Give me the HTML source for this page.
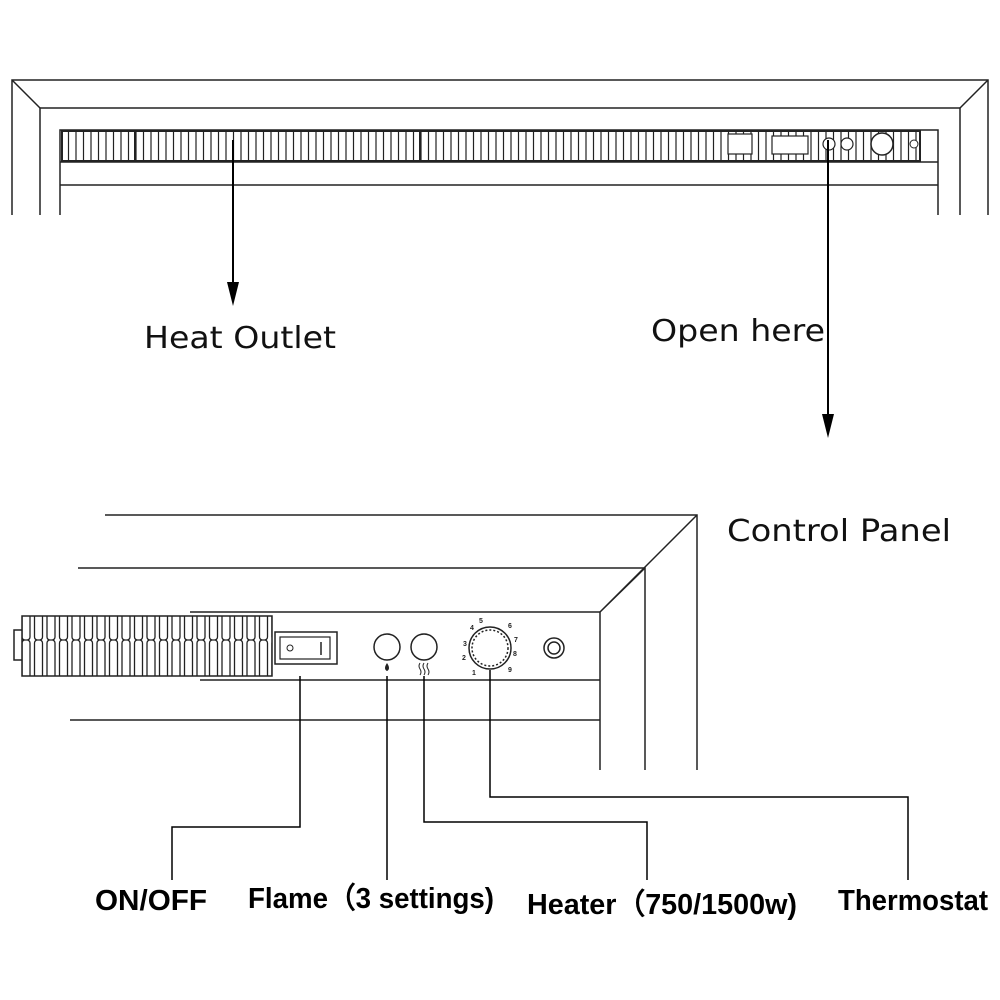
<!DOCTYPE html>
<html><head><style>html,body{margin:0;padding:0;background:#fff}svg{display:block}</style></head><body>
<svg width="1000" height="1000" viewBox="0 0 1000 1000" xmlns="http://www.w3.org/2000/svg">
<defs>
<pattern id="sl" x="60" y="0" width="7.5" height="40" patternUnits="userSpaceOnUse">
<line x1="1" y1="0" x2="1" y2="40" stroke="#222" stroke-width="1.2"/>
</pattern>
<pattern id="sl2" x="20" y="0" width="12.5" height="80" patternUnits="userSpaceOnUse">
<rect x="2" y="0" width="8" height="80" rx="3" fill="none" stroke="#222" stroke-width="1.3"/>
</pattern>
</defs>
<g fill="none" stroke="#222" stroke-width="1.5">
<path d="M12 215 V80 H988 V215"/>
<path d="M40 215 V108 H960 V215"/>
<path d="M12 80 L40 108 M988 80 L960 108"/>
<path d="M60 215 V130 H938 V215"/>
<line x1="60" y1="162" x2="938" y2="162"/>
<line x1="60" y1="185" x2="938" y2="185"/>
</g>
<rect x="62" y="131" width="858" height="30" fill="url(#sl)"/>
<rect x="62" y="131" width="858" height="30" fill="none" stroke="#222" stroke-width="2"/>
<line x1="135" y1="131" x2="135" y2="161" stroke="#222" stroke-width="2"/>
<line x1="420" y1="131" x2="420" y2="161" stroke="#222" stroke-width="2"/>
<rect x="728" y="134" width="24" height="20" fill="#fff" stroke="#222" stroke-width="1.2"/>
<rect x="772" y="136" width="36" height="18" fill="#fff" stroke="#222" stroke-width="1.2"/>
<circle cx="829" cy="144" r="6" fill="#fff" stroke="#222" stroke-width="1.2"/>
<circle cx="847" cy="144" r="6" fill="#fff" stroke="#222" stroke-width="1.2"/>
<circle cx="882" cy="144" r="11" fill="#fff" stroke="#222" stroke-width="1.5"/>
<circle cx="914" cy="144" r="4" fill="#fff" stroke="#222"/>
<g stroke="#000" stroke-width="2">
<line x1="233" y1="140" x2="233" y2="290"/>
<line x1="828" y1="140" x2="828" y2="420"/>
</g>
<path d="M227 282 L233 306 L239 282 Z M822 414 L828 438 L834 414 Z" fill="#000"/>
<g font-family="'DejaVu Sans','Liberation Sans',sans-serif" font-size="30" fill="#111">
<text x="144" y="348" textLength="192" lengthAdjust="spacingAndGlyphs">Heat Outlet</text>
<text x="651" y="341" textLength="174" lengthAdjust="spacingAndGlyphs">Open here</text>
<text x="727" y="541" textLength="224" lengthAdjust="spacingAndGlyphs">Control Panel</text>
</g>
<g fill="none" stroke="#222" stroke-width="1.5">
<path d="M105 515 H697 V770"/>
<path d="M78 568 H645 V770"/>
<path d="M697 515 L600 612 M645 568 L600 612"/>
<path d="M190 612 H600 V770"/>
<line x1="200" y1="680" x2="600" y2="680"/>
<line x1="70" y1="720" x2="600" y2="720"/>
</g>
<rect x="22" y="616" width="250" height="60" fill="url(#sl2)"/>
<path d="M22 616 H272 V676 H22 Z" fill="none" stroke="#222" stroke-width="1.5"/>
<path d="M22 630 H14 V660 H22" fill="none" stroke="#222" stroke-width="1.5"/>
<rect x="275" y="632" width="62" height="32" fill="#fff" stroke="#222" stroke-width="1.5"/>
<rect x="280" y="637" width="50" height="22" fill="none" stroke="#222" stroke-width="1.2"/>
<circle cx="290" cy="648" r="3" fill="none" stroke="#222"/>
<line x1="321" y1="642" x2="321" y2="655" stroke="#222" stroke-width="1.5"/>
<line x1="330" y1="637" x2="330" y2="659" stroke="#222"/>
<g fill="none" stroke="#222" stroke-width="1.5">
<circle cx="387" cy="647" r="13"/>
<circle cx="424" cy="647" r="13"/>
<circle cx="490" cy="648" r="21"/>
<circle cx="490" cy="648" r="18" stroke-dasharray="2 2"/>
<circle cx="554" cy="648" r="10"/>
<circle cx="554" cy="648" r="6"/>
<path d="M420 663 q-2 3 0 6 q2 3 0 6 M424 663 q-2 3 0 6 q2 3 0 6 M428 663 q-2 3 0 6 q2 3 0 6" stroke-width="1"/>
</g>
<path d="M387 663 q-4 6 0 8 q4 -2 0 -8 Z" fill="#222"/>
<g font-family="'Liberation Sans',sans-serif" font-size="7" font-weight="bold" fill="#222">
<text x="470" y="630">4</text><text x="479" y="623">5</text><text x="508" y="628">6</text><text x="514" y="642">7</text><text x="513" y="656">8</text><text x="508" y="672">9</text><text x="462" y="660">2</text><text x="463" y="646">3</text><text x="472" y="675">1</text>
</g>
<g fill="none" stroke="#000" stroke-width="1.5">
<path d="M300 676 V827 H172 V880"/>
<path d="M387 676 V880"/>
<path d="M424 676 V822 H647 V880"/>
<path d="M490 670 V797 H908 V880"/>
</g>
<g font-family="'Liberation Sans',sans-serif" font-size="29" font-weight="bold" fill="#000">
<text x="95" y="910" textLength="112" lengthAdjust="spacingAndGlyphs">ON/OFF</text>
<text x="248" y="908" textLength="246" lengthAdjust="spacingAndGlyphs">Flame（3 settings)</text>
<text x="527" y="914" textLength="270" lengthAdjust="spacingAndGlyphs">Heater（750/1500w)</text>
<text x="838" y="910" textLength="150" lengthAdjust="spacingAndGlyphs">Thermostat</text>
</g>
</svg>
</body></html>
